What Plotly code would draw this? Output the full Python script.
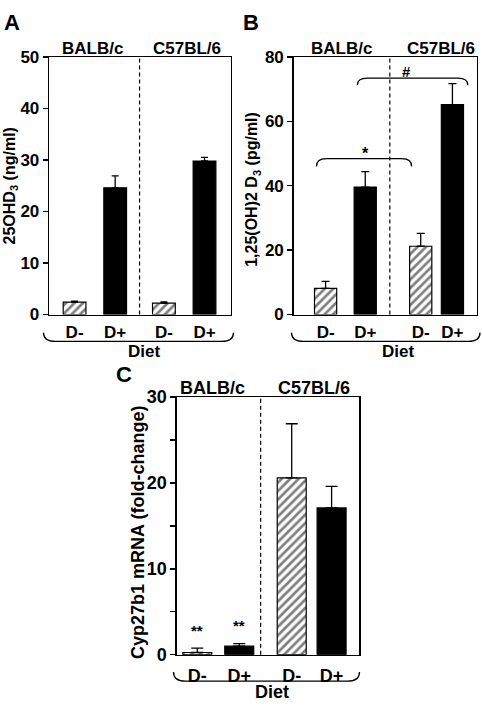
import plotly.graph_objects as go

W, H = 482, 714

# ---------------- data ----------------
diet_labels = ["D-", "D+", "D-", "D+"]
strain_labels = ["BALB/c", "C57BL/6"]
diet_axis_label = "Diet"

# Panel A: serum 25OHD3 (ng/ml)
a_mean = [2.4, 24.6, 2.2, 29.8]
a_sem = [0.2, 2.3, 0.25, 0.7]
# Panel B: serum 1,25(OH)2D3 (pg/ml)
b_mean = [8.1, 39.6, 21.2, 65.2]
b_sem = [2.2, 4.8, 4.0, 6.5]
# Panel C: Cyp27b1 mRNA (fold-change)
c_mean = [0.26, 1.0, 20.6, 17.1]
c_sem = [0.5, 0.3, 6.3, 2.5]

a_ticks = [0, 10, 20, 30, 40, 50]
b_ticks = [0, 20, 40, 60, 80]
c_ticks = [0, 5, 10, 15, 20, 25, 30]
c_ticktext = ["0", "", "10", "", "20", "", "30"]

a_title = "25OHD<sub>3</sub> (ng/ml)"
b_title = "1,25(OH)2 D<sub>3</sub> (pg/ml)"
c_title = "Cyp27b1 mRNA (fold-change)"

# ---------------- layout helpers ----------------
FONT = "Liberation Sans, Arial, Helvetica, sans-serif"


def fx(x):
    return x / W


def fy(y):
    return 1 - y / H


panels = [
    dict(mean=a_mean, sem=a_sem, title=a_title, letter="A",
         dom_x=(49, 230.5), dom_y=(48.3, 313.3),
         pos=[1, 2, 3.2, 4.2], xr=[0.37, 4.84], div=2.6, bw=0.56,
         yr=[0, 50], tickvals=a_ticks, ticktext=[str(t) for t in a_ticks],
         fs=17, tfs=16, cap=3.5, title_xy=(10.5, 181), letter_xy=(12, 12.5),
         strain_xy=[(92.5, 40), (186.7, 40)], brace=(43.5, 233.5, 332, 341),
         diet_xy=(144, 351.5), standoff=2),
    dict(mean=b_mean, sem=b_sem, title=b_title, letter="B",
         dom_x=(293.5, 477), dom_y=(48.3, 313.3),
         pos=[1, 2, 3.4, 4.2], xr=[0.19, 4.82], div=2.62, bw=0.56,
         yr=[0, 80], tickvals=b_ticks, ticktext=[str(t) for t in b_ticks],
         fs=17, tfs=16, cap=4, title_xy=(253, 185), letter_xy=(251, 12.5),
         strain_xy=[(341, 40), (441, 40)], brace=(291.5, 480, 332, 341),
         diet_xy=(398, 351.5), standoff=2),
    dict(mean=c_mean, sem=c_sem, title=c_title, letter="C",
         dom_x=(176.7, 359.3), dom_y=(398.3, 663.3),
         pos=[1, 2, 3.25, 4.2], xr=[0.51, 4.86], div=2.51, bw=0.69,
         yr=[0, 30], tickvals=c_ticks, ticktext=c_ticktext,
         fs=18, tfs=18, cap=6, title_xy=(138, 538), letter_xy=(124, 374.5),
         strain_xy=[(212.7, 389), (314, 389)], brace=(173.5, 359.5, 681, 690.5),
         diet_xy=(272, 702), standoff=4),
]

fig = go.Figure()
annotations = []
shapes = []

for i, p in enumerate(panels):
    n = "" if i == 0 else str(i + 1)
    xa, ya = "x" + n, "y" + n
    # hatched D- bars and solid D+ bars
    for idx, hatched in (([0, 2], True), ([1, 3], False)):
        fig.add_trace(go.Bar(
            x=[p["pos"][k] for k in idx],
            y=[p["mean"][k] for k in idx],
            width=p["bw"],
            xaxis=xa, yaxis=ya,
            marker=dict(
                color="white" if hatched else "black",
                line=dict(color="black", width=1.2),
                pattern=dict(shape="/", fgcolor="black", bgcolor="white",
                             size=6, solidity=0.45) if hatched else None,
            ),
            error_y=dict(type="data", symmetric=False,
                         array=[p["sem"][k] for k in idx],
                         arrayminus=[0 for _ in idx],
                         color="black", thickness=1.3, width=p["cap"]),
            showlegend=False, hoverinfo="skip",
        ))

    axis_x = dict(
        domain=[fx(p["dom_x"][0]), fx(p["dom_x"][1])],
        range=p["xr"], anchor=ya,
        tickvals=p["pos"], ticktext=diet_labels,
        ticks="", showline=True, mirror=True, linecolor="black", linewidth=1.3,
        showgrid=False, zeroline=False, fixedrange=True,
        tickfont=dict(family=FONT, size=p["fs"], color="black", weight="bold"),
        ticklabelstandoff=p["standoff"],
    )
    axis_y = dict(
        domain=[fy(p["dom_y"][1]), fy(p["dom_y"][0])],
        range=p["yr"], anchor=xa,
        tickvals=p["tickvals"], ticktext=p["ticktext"],
        ticks="outside", ticklen=5, tickwidth=1.3, tickcolor="black",
        showline=True, mirror=True, linecolor="black", linewidth=1.3,
        showgrid=False, zeroline=False, fixedrange=True,
        tickfont=dict(family=FONT, size=p["fs"], color="black", weight="bold"),
    )
    fig.update_layout(**{"xaxis" + n: axis_x, "yaxis" + n: axis_y})

    # dashed divider between strains
    shapes.append(dict(type="line", xref=xa, yref=ya + " domain",
                       x0=p["div"], x1=p["div"], y0=0, y1=1,
                       line=dict(color="black", width=1.2, dash="4px,3px")))

    # brace below the axis
    x0, x1, yt, yb = p["brace"]
    r = 12
    path = (f"M {fx(x0)},{fy(yt)} Q {fx(x0)},{fy(yb)} {fx(x0 + r)},{fy(yb)} "
            f"L {fx(x1 - r)},{fy(yb)} Q {fx(x1)},{fy(yb)} {fx(x1)},{fy(yt)}")
    shapes.append(dict(type="path", xref="paper", yref="paper", path=path,
                       line=dict(color="black", width=1.3)))

    # texts
    annotations.append(dict(text=p["title"], textangle=-90, xref="paper", yref="paper",
                            x=fx(p["title_xy"][0]), y=fy(p["title_xy"][1]),
                            xanchor="center", yanchor="middle", showarrow=False,
                            font=dict(family=FONT, size=p["tfs"], color="black", weight="bold")))
    annotations.append(dict(text=p["letter"], xref="paper", yref="paper",
                            x=fx(p["letter_xy"][0]), y=fy(p["letter_xy"][1]),
                            xanchor="center", yanchor="middle", showarrow=False,
                            font=dict(family=FONT, size=22, color="black", weight="bold")))
    for s, (sx, sy) in zip(strain_labels, p["strain_xy"]):
        annotations.append(dict(text=s, xref="paper", yref="paper",
                                x=fx(sx), y=fy(sy), xanchor="center", yanchor="middle",
                                showarrow=False,
                                font=dict(family=FONT, size=p["fs"], color="black", weight="bold")))
    annotations.append(dict(text=diet_axis_label, xref="paper", yref="paper",
                            x=fx(p["diet_xy"][0]), y=fy(p["diet_xy"][1]),
                            xanchor="center", yanchor="middle", showarrow=False,
                            font=dict(family=FONT, size=p["fs"], color="black", weight="bold")))


# significance brackets in panel B (data coordinates)
def bracket(xa, ya, x0, x1, ytop, yend, dx):
    return dict(type="path", xref=xa, yref=ya,
                path=(f"M {x0},{yend} Q {x0},{ytop} {x0 + dx},{ytop} "
                      f"L {x1 - dx},{ytop} Q {x1},{ytop} {x1},{yend}"),
                line=dict(color="black", width=1.2))


shapes.append(bracket("x2", "y2", 0.77, 3.17, 48.4, 46.0, 0.25))
shapes.append(bracket("x2", "y2", 1.80, 4.59, 73.4, 71.2, 0.25))
annotations.append(dict(text="*", xref="x2", yref="y2", x=2.01, y=50.0,
                        showarrow=False, font=dict(family=FONT, size=16, color="black", weight="bold")))
annotations.append(dict(text="#", xref="x2", yref="y2", x=3.03, y=75.6,
                        showarrow=False, font=dict(family=FONT, size=15, color="black", weight="bold")))
# ** markers in panel C
for k in (0, 1):
    annotations.append(dict(text="**", xref="x3", yref="y3",
                            x=panels[2]["pos"][k],
                            y=c_mean[k] + c_sem[k] + 2.1,
                            showarrow=False,
                            font=dict(family=FONT, size=15, color="black", weight="bold")))

fig.update_layout(
    width=W, height=H, margin=dict(l=0, r=0, t=0, b=0),
    paper_bgcolor="white", plot_bgcolor="white",
    barmode="overlay", bargap=0,
    annotations=annotations, shapes=shapes,
)

fig.write_html("out.html",
               config={"displayModeBar": False, "staticPlot": True},
               post_script="document.body.style.margin='0px';document.body.style.overflow='hidden';")
